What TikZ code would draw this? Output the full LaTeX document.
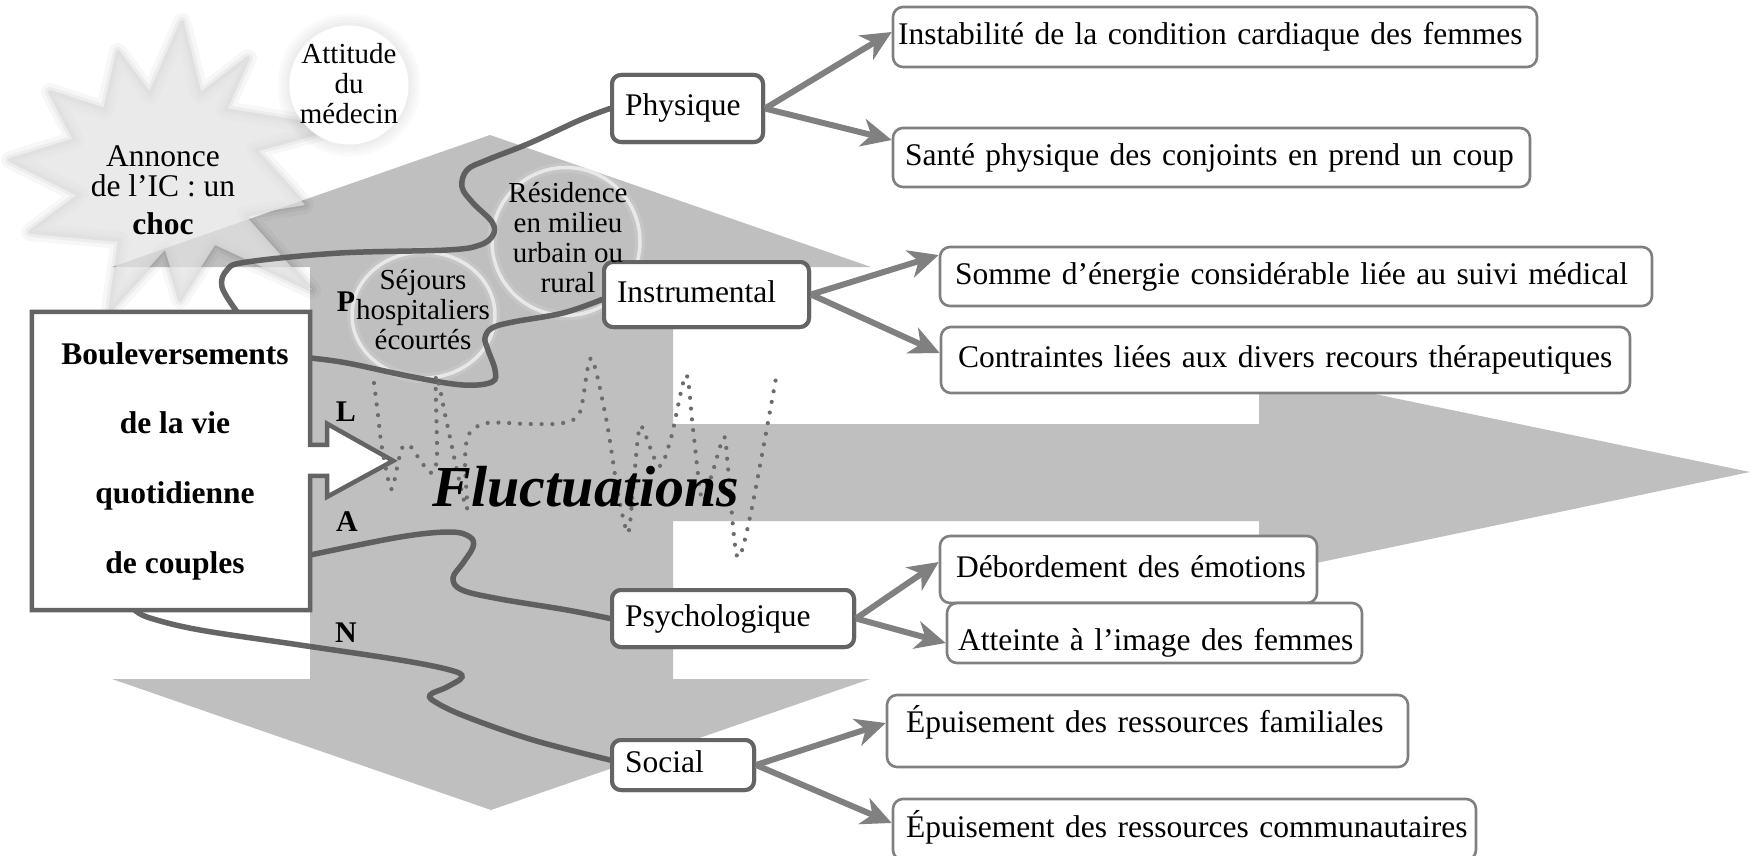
\documentclass[tikz,border=0pt]{standalone}
\usepackage{fontspec}
\setmainfont{Liberation Serif}
\usetikzlibrary{arrows.meta,calc}
\definecolor{bggray}{RGB}{191,191,191}
\definecolor{curvegray}{RGB}{85,85,85}
\definecolor{catline}{RGB}{100,100,100}
\definecolor{resline}{RGB}{128,128,128}
\definecolor{arrgray}{RGB}{128,128,128}
\definecolor{dotgray}{RGB}{108,108,108}
\definecolor{burst}{RGB}{226,226,226}
\newcommand\mainsize{\fontsize{31.5}{36}\selectfont}
\begin{document}
\begin{tikzpicture}[x=1pt,y=-1pt,
  cat/.style={draw=catline,line width=4pt,fill=white,rounded corners=9pt,inner xsep=0pt,inner ysep=0pt,align=left,text height=22pt,text depth=7pt,font=\mainsize},
  res/.style={draw=resline,line width=2.6pt,fill=white,rounded corners=10pt,inner xsep=0pt,inner ysep=0pt,align=left,text height=22pt,text depth=7pt,font=\mainsize},
  conn/.style={draw=arrgray,line width=6pt,-{Stealth[length=30pt,width=28pt,inset=9pt]}},
  wave/.style={draw=curvegray,line width=5.5pt,line cap=round,draw opacity=0.9},
  dotline/.style={draw=dotgray,line width=4.2pt,line cap=round,dash pattern=on 0pt off 10.8pt},
  ring/.style={draw=white,line width=3.5pt,draw opacity=0.6},
  small/.style={font=\fontsize{29}{30}\selectfont,align=center,inner sep=0pt},
  letter/.style={font=\fontsize{30}{30}\selectfont\bfseries,inner sep=0pt,anchor=base},
]
\useasboundingbox (0,0) rectangle (1750,856);
\fill[white] (0,0) rectangle (1750,856);

% background arrows
\fill[bggray] (310,267) -- (112,267) -- (490,135) -- (871,267) -- (673,267) -- (673,424)
  -- (1259,424) -- (1259,370) -- (1750,472) -- (1259,575) -- (1259,521) -- (673,521)
  -- (673,679) -- (870,679) -- (491,810) -- (112,679) -- (310,679) -- cycle;

% starburst
\def\burstpath{(182,22) -- (200,95) -- (248,58) -- (225,110) -- (335,128) -- (255,150) -- (305,205) -- (245,215) -- (312,290) -- (215,245) -- (180,300) -- (165,250) -- (110,310) -- (120,240) -- (30,232) -- (80,195) -- (10,160) -- (75,140) -- (50,92) -- (105,110) -- (118,52) -- (150,95) -- cycle}
\draw[black,line width=18pt,draw opacity=0.03,line join=round] \burstpath;
\draw[black,line width=10pt,draw opacity=0.04,line join=round] \burstpath;
\draw[black,line width=4pt,draw opacity=0.05,line join=round] \burstpath;
\fill[burst,fill opacity=0.72] \burstpath;

% circle of "Attitude du medecin"
\foreach \r/\o in {70/0.02,67/0.035,64/0.05,61/0.065}
  \draw[black,line width=3pt,draw opacity=\o] (349,85) circle[radius=\r];
\fill[white] (349,85) circle[radius=59];

% rings
\draw[white,line width=10pt,draw opacity=0.12] (423.5,315) ellipse[x radius=71.5,y radius=63];
\draw[ring] (423.5,315) ellipse[x radius=71.5,y radius=63];
\draw[white,line width=10pt,draw opacity=0.12] (566,241.5) circle[radius=74];
\draw[ring] (566,241.5) circle[radius=74];

% main box (node for anchors)
\node[minimum width=278pt,minimum height=298pt,inner sep=0pt] (boul) at (171,461) {};

% category boxes
\node[cat,text width=151pt,minimum height=67pt] (phys) at (687.5,108.5) {\hspace*{13pt}Physique};
\node[cat,text width=205pt,minimum height=65pt] (instr) at (706.5,294.5) {\hspace*{13pt}Instrumental};
\node[cat,text width=242pt,minimum height=57pt] (psy) at (733,618.5) {\hspace*{13pt}Psychologique};
\node[cat,text width=142pt,minimum height=50pt] (soc) at (683,765) {\hspace*{13pt}Social};

% wavy curves
\draw[wave] plot[smooth,tension=0.6] coordinates {([xshift=66pt]boul.north) (222,287) (227,270) (247,262) (340,253) (447,250) (480,245) (493,235) (492,222) (473,203) (462,187) (467,170) (487,160) (530,143) (580,120) (phys.west)};
\draw[wave] plot[smooth,tension=0.6] coordinates {([yshift=103pt]boul.east) (347,363) (413,377) (463,385) (492,382) (495,370) (488,350) (485,338) (492,328) (513,322) (563,313) ([yshift=-5pt]instr.west)};
\draw[wave] plot[smooth,tension=0.6] coordinates {([yshift=-94pt]boul.east) (400,537) (450,532) (470,537) (473,547) (463,563) (453,578) (462,590) (500,599) (567,610) (psy.west)};
\draw[wave] plot[smooth,tension=0.6] coordinates {([xshift=-36pt]boul.south) (150,618) (200,630) (300,645) (400,660) (450,670) (462,677) (447,687) (430,695) (437,703) (467,717) (533,740) ([yshift=5pt]soc.west)};

% redraw category boxes above curves
\node[cat,text width=151pt,minimum height=67pt] at (phys) {\hspace*{13pt}Physique};
\node[cat,text width=205pt,minimum height=65pt] at (instr) {\hspace*{13pt}Instrumental};
\node[cat,text width=242pt,minimum height=57pt] at (psy) {\hspace*{13pt}Psychologique};
\node[cat,text width=142pt,minimum height=50pt] at (soc) {\hspace*{13pt}Social};

% callout box
\draw[draw=catline,line width=4.5pt,fill=white,line join=miter]
  (boul.north west) -- (boul.north east) -- ++(0,133) -- ++(17,0) -- ++(0,-21) -- ++(66,37)
  -- ++(-66,36) -- ++(0,-21) -- ++(-17,0) -- (boul.south east) -- (boul.south west) -- cycle;
\node[font=\fontsize{31.5}{69.7}\selectfont\bfseries,align=center,inner sep=0pt] (bouletext) at (175,461)
  {Bouleversements\\de la vie\\quotidienne\\de couples};

% result boxes
\node[res,text width=644pt,minimum height=60pt] (r1) at (1215,37) {\hspace*{5pt}Instabilité de la condition cardiaque des femmes};
\node[res,text width=637pt,minimum height=59pt] (r2) at (1211.5,157.5) {\hspace*{12pt}Santé physique des conjoints en prend un coup};
\node[res,text width=712pt,minimum height=59pt] (r3) at (1296,276.5) {\hspace*{15pt}Somme d’énergie considérable liée au suivi médical};
\node[res,text width=689pt,minimum height=66pt] (r4) at (1285.5,360) {\hspace*{17pt}Contraintes liées aux divers recours thérapeutiques};
\node[res,text width=377pt,minimum height=67pt] (r5) at (1128.5,569.5) {\hspace*{16pt}Débordement des émotions};
\node[res,text width=415pt,minimum height=60pt] (r6) at (1154.5,633) {\hspace*{11pt}\raisebox{-10pt}{Atteinte à l’image des femmes}};
\node[res,text width=521pt,minimum height=72pt] (r7) at (1147.5,731) {\hspace*{19pt}\raisebox{6pt}{Épuisement des ressources familiales}};
\node[res,text width=583pt,minimum height=61pt] (r8) at (1184.5,829.5) {\hspace*{13pt}Épuisement des ressources communautaires};

% arrows
\draw[conn] (phys.east) -- ([yshift=5pt]r1.west);
\draw[conn] (phys.east) -- ([yshift=17.5pt]r2.west);
\draw[conn] (instr.east) -- ([yshift=21.5pt]r3.west);
\draw[conn] (instr.east) -- ([yshift=7pt]r4.west);
\draw[conn] (psy.east) -- ([yshift=7.5pt]r5.west);
\draw[conn] (psy.east) -- ([yshift=-10pt]r6.west);
\draw[conn] (soc.east) -- ([yshift=8pt]r7.west);
\draw[conn] (soc.east) -- ([yshift=6.5pt]r8.west);

% dotted fluctuation line
\draw[dotline] plot[smooth,tension=0.5] coordinates {(374,383) (378,415) (382,448) (391,489) (397,468) (402,448) (410,446) (422,463) (432,473) (437,455) (436,376) (446,419) (458,475) (467,509) (465,460) (469,434) (487,423) (530,424) (563,423) (580,412) (591,358) (606,418) (618,493) (628,533) (633,490) (638,437) (642,427) (659,466) (671,438) (686,375) (693,429) (702,500) (712,474) (724,437) (728,468) (737,556) (750,517) (776,378)};

% texts
\node[font=\fontsize{58}{60}\selectfont\bfseries\itshape,inner sep=0pt,anchor=base] (fluct) at (586,506) {Fluctuations};
\node[font=\fontsize{31.5}{30.5}\selectfont,align=center,inner sep=0pt] (annonce) at (163,190) {Annonce\\de l’IC : un\\[7pt]\textbf{choc}};
\node[small] (attitude) at (349,84) {Attitude\\du\\médecin};
\node[small] (sejours) at (423,310) {Séjours\\hospitaliers\\écourtés};
\node[small] (residence) at (568,238) {Résidence\\en milieu\\urbain ou\\rural};
\node[letter] (lp) at (346,311) {P};
\node[letter] (ll) at (346,421) {L};
\node[letter] (la) at (347,531) {A};
\node[letter] (ln) at (346,642) {N};
\end{tikzpicture}
\end{document}
